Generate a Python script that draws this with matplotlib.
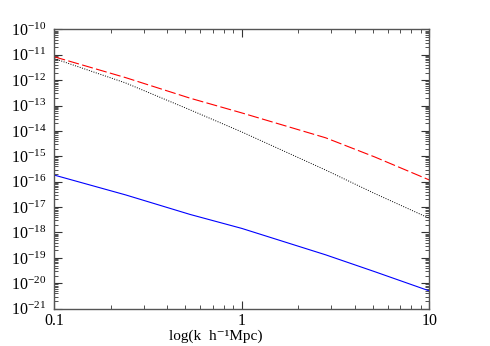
import numpy as np
import matplotlib
matplotlib.use("Agg")
import matplotlib.pyplot as plt
from matplotlib.ticker import LogLocator, NullFormatter

# values (k in h/Mpc, log10 of power)
k = [0.1, 0.24, 0.53, 1.0, 2.8, 5.1, 10.0]
log_red = [-11.08, -11.90, -12.71, -13.29, -14.27, -15.02, -15.93]
log_black = [-11.15, -12.11, -13.17, -14.04, -15.54, -16.46, -17.44]
log_blue = [-15.74, -16.52, -17.29, -17.84, -18.88, -19.54, -20.30]

xticks = [0.1, 1, 10]
xtick_labels = ["0.1", "1", "10"]

plt.rcParams['font.family'] = ['Liberation Serif', 'DejaVu Serif']
plt.rcParams['mathtext.fontset'] = 'stix'

fig = plt.figure(figsize=(4.9, 3.46), dpi=100)
ax = fig.add_axes([0.111, 0.108, 0.765, 0.807])

ax.plot(k, 10.0 ** np.array(log_red), color='red', lw=0.8, dashes=(10, 3))
ax.plot(k, 10.0 ** np.array(log_black), color='black', lw=0.7, ls=(0, (1, 1.5)))
ax.plot(k, 10.0 ** np.array(log_blue), color='blue', lw=0.8)

ax.set_xscale('log')
ax.set_yscale('log')
ax.set_xlim(0.1, 10)
ax.set_ylim(1e-21, 1e-10)

ax.set_xticks(xticks, labels=xtick_labels)
ax.xaxis.set_minor_formatter(NullFormatter())
ax.yaxis.set_major_locator(LogLocator(base=10, numticks=20))
ax.yaxis.set_minor_locator(LogLocator(base=10, subs=np.arange(2, 10), numticks=20))
ax.yaxis.set_minor_formatter(NullFormatter())

ax.tick_params(which='both', direction='in', top=True, right=True, labelsize=11.5, color='#333333')
ax.tick_params(which='major', length=6, width=0.8)
ax.tick_params(which='minor', length=3, width=0.6)
ax.tick_params(axis='y', pad=6)
ax.tick_params(axis='x', pad=3)
for s in ax.spines.values():
    s.set_color('#555555')
    s.set_linewidth(1.0)

ax.set_xlabel("log(k  h\u207b\u00b9Mpc)", fontsize=11)
ax.xaxis.set_label_coords(0.43, -0.075)

fig.savefig("out.png", dpi=100)
